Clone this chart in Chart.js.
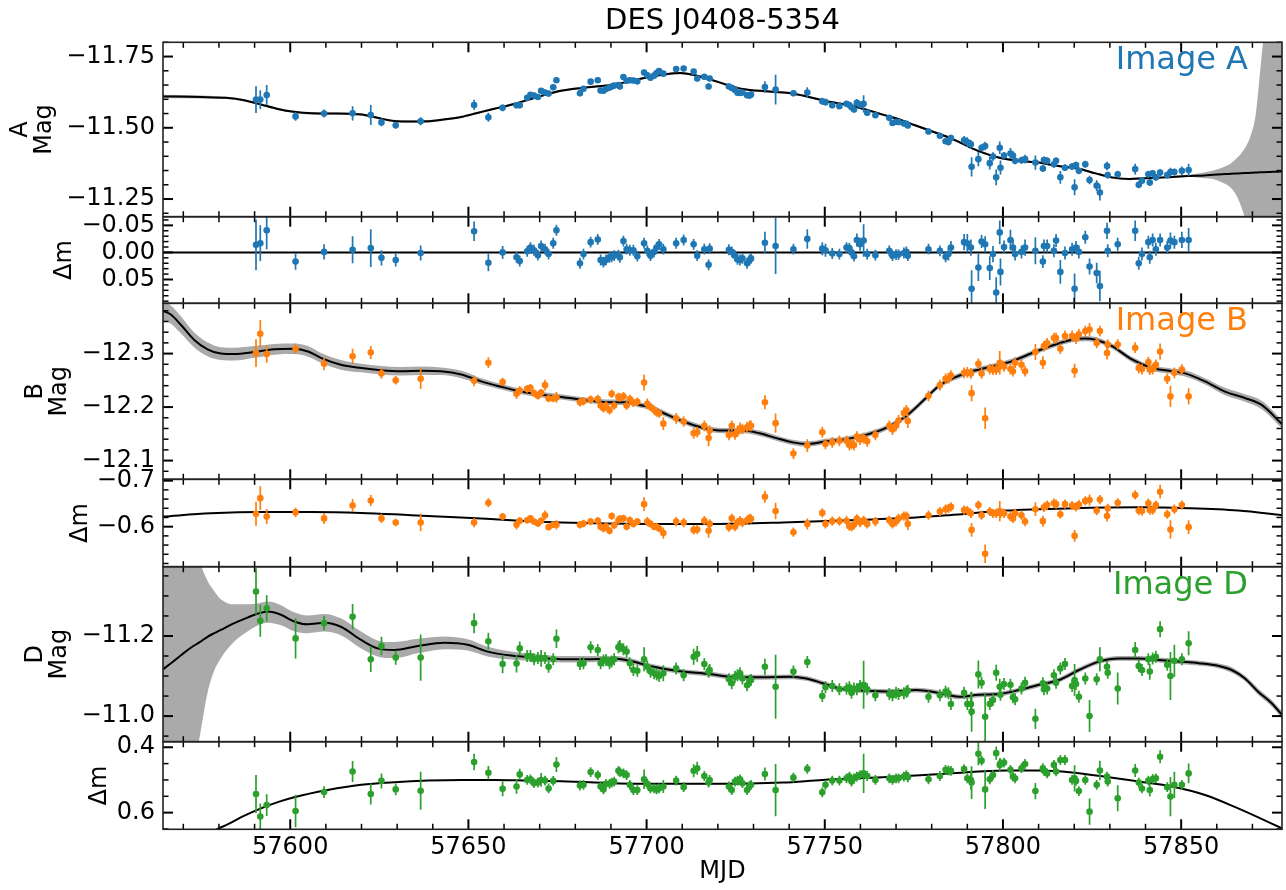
<!DOCTYPE html>
<html>
<head>
<meta charset="utf-8">
<title>DES J0408-5354</title>
<script src="https://cdn.jsdelivr.net/npm/chart.js@4.4.1/dist/chart.umd.min.js"></script>
<style>
  html, body { margin: 0; padding: 0; background: #fff; }
  canvas { display: block; }
</style>
</head>
<body>
<canvas id="grafico" width="1286" height="890"></canvas>
<script>
// observation epochs shared by the three images
const MJD = [
  57590.4, 57591.6, 57593.4, 57601.5, 57609.5, 57617.5, 57622.6, 57625.6, 57629.6, 57636.6,
  57651.6, 57655.6, 57659.6, 57663.5, 57664.4, 57666.5, 57667.4, 57668.4, 57669.5, 57670.4,
  57671.5, 57672.5, 57673.8, 57674.7,
  57681.3, 57682.3, 57684.3, 57686.3, 57687.1, 57687.9, 57688.6, 57689.6, 57690.2, 57690.9,
  57692.1, 57692.5, 57693.5, 57694.4, 57695.3, 57696.3, 57697.4, 57699.3, 57700.2, 57701.1,
  57702.1, 57702.8, 57703.5, 57704.7, 57708.3, 57710.4, 57713.2, 57714.2, 57716.2, 57717.4,
  57717.7, 57723.1, 57723.9, 57724.8, 57725.5, 57726.2, 57726.9, 57728.2, 57728.9, 57729.3,
  57733.2, 57736.2, 57741.2, 57745.1, 57749.3, 57750.2, 57752.1, 57754.1, 57756.1, 57756.9,
  57757.5, 57758.2, 57759.0, 57759.9, 57760.9, 57761.9, 57764.2, 57768.1, 57769.0, 57770.0,
  57770.7, 57772.2, 57772.9, 57773.3, 57779.1, 57782.3, 57783.9,
  57784.7, 57785.4, 57789.1, 57790.0, 57791.0, 57791.2, 57793.1, 57794.0, 57795.0, 57796.3,
  57797.2, 57798.1, 57799.1, 57799.3, 57800.3, 57802.1, 57802.8, 57803.4, 57805.2, 57806.2,
  57809.1, 57811.2, 57811.5, 57812.4, 57814.3, 57814.9, 57816.1, 57817.4, 57819.4, 57820.1,
  57820.5, 57821.3, 57823.1, 57824.3, 57826.3, 57827.2, 57829.2, 57829.4, 57832.2, 57837.1,
  57838.1, 57839.0, 57840.8, 57841.2, 57842.0, 57842.9, 57844.1, 57846.1, 57847.0, 57848.1,
  57850.2, 57852.1
];

// image A
const A_MAG = [
  -11.599, -11.599, -11.615, -11.540, -11.550, -11.551, -11.545, -11.519, -11.509, -11.523,
  -11.580, -11.537, -11.570, -11.579, -11.579, -11.605, -11.616, -11.613, -11.608, -11.630,
  -11.624, -11.620, -11.642, -11.667,
  -11.621, -11.637, -11.662, -11.667, -11.631, -11.630, -11.636, -11.641, -11.645, -11.648,
  -11.650, -11.645, -11.678, -11.665, -11.667, -11.666, -11.663, -11.694, -11.684, -11.676,
  -11.683, -11.692, -11.699, -11.690, -11.706, -11.708, -11.697, -11.673, -11.679, -11.645,
  -11.673, -11.645, -11.640, -11.633, -11.623, -11.622, -11.624, -11.614, -11.613, -11.617,
  -11.643, -11.634, -11.621, -11.624, -11.593, -11.590, -11.579, -11.576, -11.584, -11.580,
  -11.572, -11.564, -11.588, -11.581, -11.584, -11.553, -11.544, -11.535, -11.517, -11.521,
  -11.520, -11.515, -11.514, -11.508, -11.487, -11.472, -11.453,
  -11.450, -11.464, -11.456, -11.450, -11.442, -11.363, -11.390, -11.430, -11.436, -11.376,
  -11.399, -11.326, -11.430, -11.360, -11.403, -11.410, -11.403, -11.384, -11.386, -11.390,
  -11.378, -11.357, -11.387, -11.384, -11.372, -11.384, -11.326, -11.360, -11.364, -11.291,
  -11.369, -11.349, -11.372, -11.317, -11.297, -11.273, -11.366, -11.334, -11.337, -11.355,
  -11.300, -11.314, -11.337, -11.308, -11.340, -11.326, -11.343, -11.334, -11.345, -11.345,
  -11.349, -11.352
];
const A_ERR = [
  0.047, 0.033, 0.035, 0.015, 0.014, 0.025, 0.035, 0.014, 0.012, 0.014,
  0.018, 0.016, 0.012, 0.010, 0.010, 0.010, 0.010, 0.010, 0.010, 0.010,
  0.010, 0.010, 0.010, 0.010,
  0.010, 0.010, 0.010, 0.010, 0.010, 0.010, 0.010, 0.010, 0.010, 0.010,
  0.010, 0.010, 0.010, 0.010, 0.010, 0.010, 0.010, 0.010, 0.010, 0.010,
  0.010, 0.010, 0.010, 0.010, 0.010, 0.010, 0.010, 0.010, 0.010, 0.010,
  0.010, 0.010, 0.010, 0.010, 0.010, 0.010, 0.010, 0.010, 0.010, 0.010,
  0.020, 0.052, 0.010, 0.018, 0.012, 0.012, 0.010, 0.010, 0.010, 0.010,
  0.010, 0.010, 0.012, 0.012, 0.030, 0.010, 0.010, 0.010, 0.010, 0.010,
  0.010, 0.010, 0.010, 0.010, 0.010, 0.010, 0.010,
  0.012, 0.012, 0.015, 0.017, 0.015, 0.034, 0.025, 0.012, 0.015, 0.022,
  0.015, 0.028, 0.022, 0.025, 0.012, 0.019, 0.015, 0.012, 0.012, 0.015,
  0.025, 0.012, 0.012, 0.012, 0.012, 0.012, 0.022, 0.012, 0.012, 0.028,
  0.012, 0.012, 0.012, 0.015, 0.019, 0.028, 0.015, 0.012, 0.012, 0.019,
  0.012, 0.012, 0.012, 0.012, 0.012, 0.012, 0.012, 0.012, 0.015, 0.012,
  0.015, 0.022
];
const A_DM = [
  -0.014, -0.017, -0.041, 0.017, -0.001, -0.005, -0.008, 0.010, 0.014, 0.001,
  -0.039, 0.019, 0.000, 0.009, 0.016, -0.002, -0.009, -0.004, 0.005, -0.012,
  -0.006, 0.003, -0.017, -0.041,
  0.020, 0.003, -0.019, -0.024, 0.014, 0.018, 0.014, 0.009, 0.008, 0.006,
  0.005, 0.009, -0.021, -0.006, -0.004, -0.004, 0.007, -0.017, -0.003, 0.006,
  -0.001, -0.009, -0.015, -0.006, -0.017, -0.023, -0.015, 0.006, -0.006, 0.023,
  -0.007, -0.005, -0.001, 0.006, 0.013, 0.014, 0.011, 0.020, 0.014, 0.011,
  -0.018, -0.012, -0.006, -0.025, -0.007, -0.004, 0.002, 0.003, -0.009, -0.008,
  0.000, 0.007, -0.023, -0.015, -0.022, 0.003, 0.005, -0.003, 0.006, 0.004,
  0.004, 0.001, -0.001, 0.006, -0.006, -0.003, 0.008,
  0.003, -0.009, -0.019, -0.017, -0.009, 0.067, 0.028, -0.020, -0.015, 0.029,
  0.003, 0.074, -0.037, 0.036, -0.010, -0.023, -0.009, 0.003, -0.001, -0.009,
  -0.003, 0.017, -0.012, -0.012, -0.003, -0.022, 0.036, 0.001, -0.006, 0.067,
  -0.009, -0.001, -0.028, 0.026, 0.038, 0.062, -0.040, -0.003, -0.015, -0.040,
  0.020, 0.003, -0.019, 0.009, -0.023, -0.006, -0.023, -0.009, -0.022, -0.019,
  -0.023, -0.023
];

// image B
const B_MAG = [
  -12.301, -12.337, -12.299, -12.309, -12.281, -12.295, -12.302, -12.263, -12.250, -12.253,
  -12.249, -12.283, -12.247, -12.225, -12.231, -12.234, -12.236, -12.226, -12.221, -12.227,
  -12.241, -12.216, -12.216, -12.218,
  -12.209, -12.211, -12.214, -12.215, -12.203, -12.198, -12.203, -12.194, -12.225, -12.203,
  -12.219, -12.218, -12.220, -12.203, -12.215, -12.208, -12.210, -12.246, -12.206, -12.200,
  -12.195, -12.190, -12.188, -12.169, -12.179, -12.173, -12.151, -12.153, -12.165, -12.142,
  -12.156, -12.148, -12.165, -12.149, -12.154, -12.161, -12.159, -12.162, -12.165, -12.165,
  -12.209, -12.170, -12.113, -12.128, -12.153, -12.131, -12.134, -12.137, -12.137, -12.129,
  -12.131, -12.129, -12.145, -12.139, -12.142, -12.136, -12.148, -12.165, -12.158, -12.165,
  -12.175, -12.189, -12.194, -12.174, -12.221, -12.241, -12.253,
  -12.254, -12.259, -12.264, -12.265, -12.263, -12.226, -12.281, -12.263, -12.179, -12.271,
  -12.270, -12.270, -12.283, -12.279, -12.276, -12.271, -12.267, -12.283, -12.279, -12.267,
  -12.303, -12.283, -12.314, -12.319, -12.329, -12.329, -12.309, -12.333, -12.333, -12.268,
  -12.328, -12.336, -12.342, -12.345, -12.320, -12.342, -12.301, -12.317, -12.317, -12.311,
  -12.273, -12.271, -12.284, -12.270, -12.271, -12.279, -12.304, -12.253, -12.220, -12.264,
  -12.270, -12.220
];
const B_ERR = [
  0.026, 0.026, 0.016, 0.010, 0.012, 0.014, 0.012, 0.010, 0.008, 0.019,
  0.010, 0.010, 0.008, 0.010, 0.008, 0.007, 0.007, 0.007, 0.007, 0.007,
  0.010, 0.007, 0.007, 0.010,
  0.008, 0.008, 0.008, 0.008, 0.008, 0.008, 0.008, 0.008, 0.008, 0.008,
  0.008, 0.008, 0.008, 0.008, 0.008, 0.008, 0.008, 0.015, 0.010, 0.008,
  0.008, 0.008, 0.008, 0.012, 0.010, 0.010, 0.010, 0.010, 0.010, 0.015,
  0.010, 0.010, 0.010, 0.010, 0.010, 0.010, 0.010, 0.010, 0.010, 0.010,
  0.013, 0.018, 0.010, 0.012, 0.010, 0.010, 0.010, 0.010, 0.010, 0.010,
  0.010, 0.010, 0.010, 0.010, 0.010, 0.010, 0.010, 0.010, 0.010, 0.010,
  0.010, 0.010, 0.010, 0.013, 0.010, 0.010, 0.010,
  0.010, 0.010, 0.010, 0.010, 0.010, 0.015, 0.010, 0.010, 0.020, 0.010,
  0.010, 0.010, 0.022, 0.010, 0.010, 0.010, 0.010, 0.010, 0.010, 0.010,
  0.015, 0.012, 0.010, 0.010, 0.010, 0.010, 0.010, 0.010, 0.010, 0.013,
  0.010, 0.010, 0.010, 0.012, 0.010, 0.010, 0.012, 0.010, 0.010, 0.010,
  0.010, 0.010, 0.010, 0.010, 0.010, 0.010, 0.015, 0.010, 0.020, 0.010,
  0.010, 0.015
];
const B_DM = [
  -0.628, -0.662, -0.622, -0.631, -0.618, -0.646, -0.657, -0.618, -0.609, -0.609,
  -0.609, -0.652, -0.622, -0.604, -0.613, -0.614, -0.618, -0.611, -0.607, -0.613,
  -0.625, -0.599, -0.604, -0.604,
  -0.604, -0.607, -0.611, -0.613, -0.600, -0.596, -0.601, -0.591, -0.623, -0.603,
  -0.614, -0.617, -0.618, -0.600, -0.614, -0.606, -0.611, -0.649, -0.611, -0.606,
  -0.600, -0.600, -0.596, -0.586, -0.611, -0.609, -0.593, -0.594, -0.613, -0.591,
  -0.606, -0.599, -0.618, -0.600, -0.609, -0.613, -0.609, -0.614, -0.618, -0.617,
  -0.665, -0.634, -0.588, -0.606, -0.630, -0.606, -0.612, -0.612, -0.613, -0.601,
  -0.600, -0.604, -0.617, -0.609, -0.614, -0.606, -0.611, -0.614, -0.606, -0.611,
  -0.618, -0.623, -0.623, -0.606, -0.625, -0.633, -0.638,
  -0.640, -0.643, -0.636, -0.635, -0.629, -0.593, -0.647, -0.625, -0.541, -0.633,
  -0.629, -0.629, -0.634, -0.629, -0.629, -0.622, -0.618, -0.629, -0.625, -0.611,
  -0.638, -0.612, -0.642, -0.647, -0.651, -0.649, -0.627, -0.649, -0.646, -0.580,
  -0.643, -0.648, -0.656, -0.658, -0.635, -0.659, -0.623, -0.640, -0.652, -0.669,
  -0.635, -0.634, -0.651, -0.636, -0.636, -0.647, -0.676, -0.627, -0.594, -0.638,
  -0.647, -0.599
];

// image D
const D_MAG = [
  -11.311, -11.238, -11.269, -11.194, -11.232, -11.248, -11.142, -11.175, -11.146, -11.146,
  -11.232, -11.187, -11.130, -11.131, -11.169, -11.150, -11.150, -11.142, -11.145, -11.144,
  -11.145, -11.123, -11.142, -11.193,
  -11.130, -11.132, -11.172, -11.165, -11.132, -11.139, -11.140, -11.132, -11.136, -11.142,
  -11.172, -11.175, -11.167, -11.161, -11.132, -11.115, -11.113, -11.142, -11.123, -11.111,
  -11.107, -11.104, -11.100, -11.107, -11.119, -11.102, -11.148, -11.155, -11.130, -11.111,
  -11.115, -11.092, -11.082, -11.098, -11.102, -11.107, -11.094, -11.077, -11.088, -11.090,
  -11.123, -11.073, -11.111, -11.135, -11.050, -11.072, -11.075, -11.067, -11.069, -11.072,
  -11.058, -11.069, -11.067, -11.075, -11.078, -11.067, -11.052, -11.055, -11.052, -11.058,
  -11.055, -11.057, -11.061, -11.063, -11.048, -11.052, -11.061,
  -11.057, -11.030, -11.058, -11.030, -11.030, -11.011, -11.104, -11.083, -10.998, -11.030,
  -11.040, -11.108, -11.073, -11.053, -11.080, -11.078, -11.047, -11.042, -11.069, -11.083,
  -10.993, -11.082, -11.067, -11.069, -11.102, -11.083, -11.119, -11.130, -11.075, -11.090,
  -11.080, -11.048, -11.094, -11.000, -11.092, -11.142, -11.123, -11.108, -11.069, -11.165,
  -11.125, -11.115, -11.142, -11.111, -11.144, -11.148, -11.217, -11.128, -11.100, -11.138,
  -11.142, -11.182
];
const D_ERR = [
  0.058, 0.040, 0.033, 0.050, 0.018, 0.032, 0.032, 0.023, 0.018, 0.058,
  0.025, 0.021, 0.023, 0.022, 0.017, 0.015, 0.015, 0.015, 0.015, 0.021,
  0.015, 0.015, 0.015, 0.023,
  0.015, 0.015, 0.015, 0.015, 0.015, 0.015, 0.015, 0.015, 0.015, 0.015,
  0.015, 0.015, 0.015, 0.015, 0.015, 0.015, 0.015, 0.030, 0.015, 0.015,
  0.015, 0.015, 0.015, 0.020, 0.015, 0.015, 0.020, 0.020, 0.015, 0.015,
  0.015, 0.015, 0.015, 0.015, 0.015, 0.015, 0.015, 0.015, 0.015, 0.015,
  0.020, 0.080, 0.015, 0.015, 0.015, 0.015, 0.015, 0.015, 0.015, 0.015,
  0.015, 0.015, 0.015, 0.015, 0.060, 0.015, 0.015, 0.015, 0.015, 0.015,
  0.015, 0.015, 0.015, 0.015, 0.015, 0.015, 0.015,
  0.015, 0.015, 0.015, 0.015, 0.030, 0.050, 0.035, 0.015, 0.060, 0.015,
  0.015, 0.020, 0.020, 0.015, 0.015, 0.015, 0.015, 0.015, 0.015, 0.015,
  0.025, 0.015, 0.015, 0.015, 0.015, 0.015, 0.015, 0.015, 0.015, 0.040,
  0.015, 0.015, 0.015, 0.040, 0.015, 0.030, 0.015, 0.015, 0.040, 0.020,
  0.015, 0.015, 0.015, 0.020, 0.015, 0.015, 0.020, 0.015, 0.060, 0.040,
  0.015, 0.030
];
const D_DM = [
  0.543, 0.612, 0.577, 0.595, 0.537, 0.474, 0.543, 0.503, 0.529, 0.533,
  0.445, 0.478, 0.527, 0.520, 0.483, 0.500, 0.498, 0.510, 0.508, 0.500,
  0.502, 0.526, 0.503, 0.453,
  0.517, 0.515, 0.476, 0.485, 0.520, 0.529, 0.512, 0.512, 0.508, 0.505,
  0.472, 0.476, 0.480, 0.485, 0.515, 0.531, 0.531, 0.498, 0.512, 0.526,
  0.526, 0.529, 0.526, 0.520, 0.502, 0.522, 0.472, 0.464, 0.488, 0.508,
  0.500, 0.520, 0.531, 0.505, 0.502, 0.498, 0.510, 0.531, 0.518, 0.515,
  0.482, 0.531, 0.493, 0.466, 0.538, 0.515, 0.502, 0.502, 0.495, 0.490,
  0.505, 0.495, 0.490, 0.485, 0.480, 0.488, 0.500, 0.495, 0.500, 0.495,
  0.495, 0.490, 0.485, 0.492, 0.498, 0.488, 0.469,
  0.471, 0.472, 0.467, 0.495, 0.500, 0.508, 0.420, 0.441, 0.529, 0.498,
  0.485, 0.418, 0.454, 0.449, 0.447, 0.469, 0.490, 0.495, 0.464, 0.451,
  0.534, 0.464, 0.472, 0.480, 0.454, 0.474, 0.439, 0.439, 0.500, 0.495,
  0.503, 0.534, 0.500, 0.597, 0.515, 0.471, 0.490, 0.505, 0.556, 0.471,
  0.508, 0.526, 0.502, 0.531, 0.497, 0.495, 0.429, 0.522, 0.551, 0.515,
  0.515, 0.480
];

// model light curves and their uncertainty bands
const A_CURVE_T = [
  57564.3, 57575, 57582, 57587, 57592, 57596.5, 57601, 57606, 57612, 57617,
  57620, 57624.5, 57629, 57634, 57639, 57643, 57648, 57652.5, 57657, 57662,
  57667, 57671.5, 57676, 57682, 57691.5, 57699, 57704.5, 57709.5, 57713, 57717.5,
  57722.5, 57727, 57733.5, 57740, 57745, 57750.5, 57757, 57761.5, 57766, 57771,
  57775.5, 57780, 57785, 57788, 57793, 57799, 57804.5, 57810, 57815.5, 57821,
  57826, 57830.5, 57835.5, 57840, 57845.5, 57852,
  57856.5, 57859, 57861.5, 57864, 57866, 57868, 57869.5, 57871, 57872.2, 57873.2,
  57875, 57877, 57878.3
];
const A_CURVE = [
  -11.610, -11.608, -11.605, -11.597, -11.581, -11.566, -11.556, -11.551, -11.550, -11.549,
  -11.547, -11.535, -11.524, -11.522, -11.523, -11.529, -11.538, -11.552, -11.566, -11.581,
  -11.599, -11.616, -11.630, -11.640, -11.653, -11.674, -11.686, -11.692, -11.686, -11.671,
  -11.651, -11.636, -11.628, -11.622, -11.610, -11.593, -11.579, -11.564, -11.547, -11.529,
  -11.508, -11.488, -11.465, -11.448, -11.419, -11.395, -11.384, -11.378, -11.366, -11.357,
  -11.340, -11.326, -11.320, -11.323, -11.326, -11.331,
  -11.333, -11.335, -11.337, -11.339, -11.340, -11.341, -11.342, -11.343, -11.344, -11.344,
  -11.345, -11.346, -11.347
];
const A_BAND_UP = [
  0.006, 0.005, 0.004, 0.004, 0.004, 0.004, 0.004, 0.004, 0.004, 0.004,
  0.004, 0.004, 0.004, 0.004, 0.004, 0.004, 0.004, 0.004, 0.004, 0.004,
  0.004, 0.004, 0.004, 0.004, 0.004, 0.004, 0.004, 0.004, 0.004, 0.004,
  0.004, 0.004, 0.004, 0.004, 0.004, 0.004, 0.004, 0.004, 0.004, 0.004,
  0.004, 0.004, 0.004, 0.004, 0.004, 0.004, 0.004, 0.004, 0.004, 0.004,
  0.004, 0.004, 0.004, 0.004, 0.004, 0.004,
  0.010, 0.015, 0.023, 0.037, 0.058, 0.090, 0.130, 0.210, 0.360, 0.480,
  0.650, 0.800, 0.900
];
const A_BAND_DN = [
  0.006, 0.005, 0.004, 0.004, 0.004, 0.004, 0.004, 0.004, 0.004, 0.004,
  0.004, 0.004, 0.004, 0.004, 0.004, 0.004, 0.004, 0.004, 0.004, 0.004,
  0.004, 0.004, 0.004, 0.004, 0.004, 0.004, 0.004, 0.004, 0.004, 0.004,
  0.004, 0.004, 0.004, 0.004, 0.004, 0.004, 0.004, 0.004, 0.004, 0.004,
  0.004, 0.004, 0.004, 0.004, 0.004, 0.004, 0.004, 0.004, 0.004, 0.004,
  0.004, 0.004, 0.004, 0.004, 0.004, 0.004,
  0.010, 0.015, 0.029, 0.050, 0.090, 0.160, 0.220, 0.300, 0.380, 0.450,
  0.550, 0.650, 0.700
];

const B_CURVE_T = [
  57564.3, 57566.5, 57569.3, 57573, 57576.8, 57580.5, 57584.3, 57590, 57595.5, 57601,
  57605, 57608.6, 57614.2, 57620, 57625.5, 57631, 57637, 57642.3, 57648, 57653.6,
  57659.2, 57664.8, 57670.4, 57676, 57684, 57690, 57695.3, 57698, 57701, 57704.7,
  57710.3, 57716, 57721.5, 57727, 57731.7, 57736.4, 57741, 57745, 57750.4, 57756,
  57761.6, 57767.2, 57772.8, 57778.4, 57782.1, 57786, 57791.4, 57797, 57802.6, 57808.2,
  57813.8, 57819.4, 57823, 57826, 57830.6, 57836.2, 57841.8, 57847.4, 57851.1, 57856.7,
  57862.3, 57867.9, 57872.6, 57878.3
];
const B_CURVE = [
  -12.380, -12.373, -12.354, -12.326, -12.308, -12.300, -12.299, -12.303, -12.308, -12.309,
  -12.304, -12.292, -12.279, -12.273, -12.269, -12.267, -12.268, -12.267, -12.261, -12.248,
  -12.238, -12.229, -12.223, -12.219, -12.212, -12.209, -12.209, -12.204, -12.200, -12.189,
  -12.173, -12.161, -12.156, -12.156, -12.151, -12.142, -12.134, -12.131, -12.136, -12.140,
  -12.148, -12.161, -12.183, -12.217, -12.240, -12.254, -12.267, -12.276, -12.286, -12.301,
  -12.315, -12.326, -12.328, -12.326, -12.314, -12.289, -12.273, -12.267, -12.263, -12.248,
  -12.229, -12.217, -12.204, -12.168
];
const B_BAND = [
  0.018, 0.017, 0.016, 0.014, 0.013, 0.012, 0.012, 0.011, 0.010, 0.010,
  0.010, 0.009, 0.009, 0.008, 0.008, 0.008, 0.008, 0.007, 0.007, 0.006,
  0.005, 0.005, 0.005, 0.005, 0.005, 0.005, 0.005, 0.005, 0.005, 0.005,
  0.005, 0.005, 0.005, 0.005, 0.005, 0.005, 0.005, 0.005, 0.005, 0.005,
  0.005, 0.005, 0.005, 0.005, 0.005, 0.005, 0.005, 0.005, 0.005, 0.005,
  0.005, 0.005, 0.005, 0.005, 0.005, 0.005, 0.005, 0.005, 0.006, 0.006,
  0.007, 0.007, 0.008, 0.008
];

const D_CURVE_T = [
  57564.3, 57567, 57569.5, 57572, 57574.5, 57576.8, 57578.7, 57580.5, 57584.3, 57588,
  57591, 57593.6, 57597.4, 57601.1, 57604.9, 57609.6, 57614.2, 57619.9, 57624.5, 57629.2,
  57635.8, 57643.3, 57649.8, 57655.4, 57662, 57668.5, 57676, 57682.3, 57691.6, 57695.3,
  57700.9, 57708.4, 57717.7, 57725.2, 57732.6, 57740.1, 57744.8, 57749.4, 57754.1, 57761.6,
  57769, 57775.6, 57780.2, 57784.9, 57787.7, 57793.3, 57798.9, 57804.5, 57810.1, 57815.7,
  57821.3, 57826.9, 57832.5, 57838.1, 57843.7, 57849.3, 57854.9, 57860.6, 57864.2, 57867.9,
  57871.6, 57875.4, 57878.3
];
const D_CURVE = [
  -11.117, -11.135, -11.153, -11.170, -11.184, -11.198, -11.207, -11.215, -11.232, -11.246,
  -11.256, -11.261, -11.253, -11.236, -11.229, -11.233, -11.223, -11.190, -11.169, -11.165,
  -11.175, -11.183, -11.178, -11.161, -11.151, -11.146, -11.142, -11.142, -11.143, -11.138,
  -11.125, -11.113, -11.105, -11.097, -11.097, -11.098, -11.094, -11.082, -11.069, -11.063,
  -11.061, -11.065, -11.061, -11.052, -11.048, -11.053, -11.055, -11.065, -11.078, -11.090,
  -11.115, -11.136, -11.144, -11.144, -11.140, -11.136, -11.132, -11.125, -11.115, -11.094,
  -11.061, -11.032, -11.003
];
const D_BAND_UP = [
  0.600, 0.550, 0.480, 0.360, 0.210, 0.140, 0.105, 0.077, 0.047, 0.033,
  0.026, 0.025, 0.024, 0.023, 0.022, 0.022, 0.021, 0.021, 0.020, 0.020,
  0.018, 0.016, 0.014, 0.012, 0.010, 0.009, 0.008, 0.008, 0.007, 0.007,
  0.006, 0.006, 0.006, 0.006, 0.006, 0.006, 0.006, 0.006, 0.006, 0.006,
  0.006, 0.006, 0.006, 0.006, 0.006, 0.006, 0.006, 0.006, 0.006, 0.006,
  0.006, 0.006, 0.006, 0.006, 0.006, 0.006, 0.006, 0.006, 0.007, 0.007,
  0.008, 0.008, 0.009
];
const D_BAND_DN = [
  0.550, 0.500, 0.420, 0.330, 0.240, 0.140, 0.093, 0.071, 0.046, 0.035,
  0.029, 0.028, 0.026, 0.024, 0.022, 0.022, 0.021, 0.021, 0.020, 0.020,
  0.018, 0.016, 0.014, 0.012, 0.010, 0.009, 0.008, 0.008, 0.007, 0.007,
  0.006, 0.006, 0.006, 0.006, 0.006, 0.006, 0.006, 0.006, 0.006, 0.006,
  0.006, 0.006, 0.006, 0.006, 0.006, 0.006, 0.006, 0.006, 0.006, 0.006,
  0.006, 0.006, 0.006, 0.006, 0.006, 0.006, 0.006, 0.006, 0.007, 0.007,
  0.008, 0.008, 0.009
];

// difference curves shown under each image
const A_DM_CURVE_T = [57564.3, 57878.3];
const A_DM_CURVE = [0, 0];
const B_DM_CURVE_T = [
  57564.3, 57577.7, 57591.8, 57605.8, 57619.9, 57633.9, 57647.9, 57662, 57676, 57700.9,
  57719.6, 57738.2, 57756.9, 57775.6, 57784.9, 57800.7, 57819.4, 57838.1, 57852.1, 57866,
  57878.3
];
const B_DM_CURVE = [
  -0.622, -0.629, -0.632, -0.632, -0.630, -0.625, -0.620, -0.614, -0.609, -0.606,
  -0.606, -0.609, -0.614, -0.620, -0.625, -0.635, -0.640, -0.642, -0.640, -0.635,
  -0.625
];
const D_DM_CURVE_T = [
  57564.3, 57572, 57579.4, 57582.4, 57587, 57591.8, 57596.5, 57601.1, 57610.5, 57619.9,
  57629.2, 57638.6, 57648, 57657.3, 57666.7, 57676, 57700.9, 57719.6, 57738.2, 57749.4,
  57766.2, 57784.9, 57800.7, 57810.1, 57819.4, 57828.7, 57838.1, 57847.4, 57856.7, 57866,
  57878.3
];
const D_DM_CURVE = [
  0.760, 0.700, 0.651, 0.636, 0.610, 0.587, 0.568, 0.553, 0.531, 0.515,
  0.507, 0.502, 0.500, 0.500, 0.502, 0.504, 0.512, 0.512, 0.508, 0.500,
  0.492, 0.480, 0.471, 0.471, 0.477, 0.490, 0.505, 0.520, 0.546, 0.587,
  0.648
];

// tick labels
const X_TICKS = [57600, 57650, 57700, 57750, 57800, 57850];
const A_TICKS = [-11.75, -11.5, -11.25];
const DA_TICKS = [-0.05, 0, 0.05];
const B_TICKS = [-12.3, -12.2, -12.1];
const DB_TICKS = [-0.7, -0.6];
const D_TICKS = [-11.2, -11.0];
const DD_TICKS = [0.4, 0.6];

const FONT = 'DejaVu Sans';
const FS = 24;
const BLUE = '#1f77b4', ORANGE = '#ff7f0e', GREEN = '#2ca02c', GREY = '#aaaaaa';
const X_MIN = 57564.3, X_MAX = 57878.3;

// one entry per stacked panel, top to bottom
const panels = [
  { id: 'yA', min: -11.80, max: -11.188, ticks: A_TICKS, minor: 0.05, dec: 2, h: 174.4, title: ['A', 'Mag'], tag: 'Image A', color: BLUE },
  { id: 'dA', min: -0.066, max: 0.094, ticks: DA_TICKS, minor: 0.01, dec: 2, h: 86.6, title: ['\u0394m'] },
  { id: 'yB', min: -12.394, max: -12.065, ticks: B_TICKS, minor: 0.02, dec: 1, h: 176, title: ['B', 'Mag'], tag: 'Image B', color: ORANGE },
  { id: 'dB', min: -0.703, max: -0.513, ticks: DB_TICKS, minor: 0.02, dec: 1, h: 87.4, title: ['\u0394m'] },
  { id: 'yD', min: -11.373, max: -10.936, ticks: D_TICKS, minor: 0.05, dec: 1, h: 175, title: ['D', 'Mag'], tag: 'Image D', color: GREEN },
  { id: 'dD', min: 0.383, max: 0.651, ticks: DD_TICKS, minor: 0.05, dec: 1, h: 87.6, title: ['\u0394m'] }
];

function fmt(v, dec) {
  return (v < -1e-9 ? '\u2212' : '') + Math.abs(v).toFixed(dec);
}

function pts(xs, ys, off, sign) {
  return xs.map((x, i) => ({ x, y: ys[i] + (off ? sign * off[i] : 0) }));
}

const datasets = [];

function addBand(axis, t, c, up, dn) {
  datasets.push({ data: pts(t, c, dn, 1), yAxisID: axis, borderWidth: 0, pointRadius: 0,
    cubicInterpolationMode: 'monotone', fill: false, order: 3 });
  datasets.push({ data: pts(t, c, up, -1), yAxisID: axis, borderWidth: 0, pointRadius: 0,
    cubicInterpolationMode: 'monotone', fill: false, order: 3, bandOf: datasets.length - 1 });
}

function addCurve(axis, t, c) {
  datasets.push({ data: pts(t, c), yAxisID: axis, borderColor: '#000', borderWidth: 2,
    pointRadius: 0, cubicInterpolationMode: 'monotone', fill: false, order: 2 });
}

function addPoints(axis, ys, err, color) {
  datasets.push({ data: pts(MJD, ys), yAxisID: axis, showLine: false, pointRadius: 3.3,
    pointBackgroundColor: color, pointBorderColor: color, pointBorderWidth: 0,
    errors: err, errColor: color, order: 1 });
}

addBand('yA', A_CURVE_T, A_CURVE, A_BAND_UP, A_BAND_DN);
addCurve('yA', A_CURVE_T, A_CURVE);
addPoints('yA', A_MAG, A_ERR, BLUE);
addCurve('dA', A_DM_CURVE_T, A_DM_CURVE);
addPoints('dA', A_DM, A_ERR, BLUE);

addBand('yB', B_CURVE_T, B_CURVE, B_BAND, B_BAND);
addCurve('yB', B_CURVE_T, B_CURVE);
addPoints('yB', B_MAG, B_ERR, ORANGE);
addCurve('dB', B_DM_CURVE_T, B_DM_CURVE);
addPoints('dB', B_DM, B_ERR, ORANGE);

addBand('yD', D_CURVE_T, D_CURVE, D_BAND_UP, D_BAND_DN);
addCurve('yD', D_CURVE_T, D_CURVE);
addPoints('yD', D_MAG, D_ERR, GREEN);
addCurve('dD', D_DM_CURVE_T, D_DM_CURVE);
addPoints('dD', D_DM, D_ERR, GREEN);

// fills the band between two edge lines, following their bezier control points
function traceBand(ctx, hi, lo) {
  ctx.beginPath();
  ctx.moveTo(hi[0].x, hi[0].y);
  for (let i = 1; i < hi.length; i++) {
    const a = hi[i - 1], b = hi[i];
    ctx.bezierCurveTo(a.cp2x ?? a.x, a.cp2y ?? a.y, b.cp1x ?? b.x, b.cp1y ?? b.y, b.x, b.y);
  }
  const n = lo.length - 1;
  ctx.lineTo(lo[n].x, lo[n].y);
  for (let i = n; i > 0; i--) {
    const a = lo[i], b = lo[i - 1];
    ctx.bezierCurveTo(a.cp1x ?? a.x, a.cp1y ?? a.y, b.cp2x ?? b.x, b.cp2y ?? b.y, b.x, b.y);
  }
  ctx.closePath();
  ctx.fill();
}

const panelPlugin = {
  id: 'panelPlugin',
  beforeDatasetDraw(chart, args) {
    const ctx = chart.ctx;
    const { xScale, yScale } = args.meta;
    ctx.save();
    ctx.beginPath();
    ctx.rect(xScale.left, yScale.top, xScale.right - xScale.left, yScale.bottom - yScale.top);
    ctx.clip();
    const ds = chart.data.datasets[args.index];
    if (ds.bandOf !== undefined) {
      const hiMeta = args.meta;
      const loMeta = chart.getDatasetMeta(ds.bandOf);
      [hiMeta, loMeta].forEach(m => {
        if (m.dataset && m.dataset.updateControlPoints) m.dataset.updateControlPoints(chart.chartArea, 'x');
      });
      ctx.fillStyle = GREY;
      traceBand(ctx, hiMeta.data, loMeta.data);
    }
  },
  afterDatasetDraw(chart, args) {
    const ctx = chart.ctx;
    const ds = chart.data.datasets[args.index];
    if (ds.errors) {
      const { xScale, yScale } = args.meta;
      ctx.strokeStyle = ds.errColor;
      ctx.lineWidth = 1.7;
      ds.data.forEach((p, i) => {
        const px = xScale.getPixelForValue(p.x);
        ctx.beginPath();
        ctx.moveTo(px, yScale.getPixelForValue(p.y - ds.errors[i]));
        ctx.lineTo(px, yScale.getPixelForValue(p.y + ds.errors[i]));
        ctx.stroke();
      });
    }
    ctx.restore();
  },
  afterDraw(chart) {
    const ctx = chart.ctx;
    const x = chart.scales.x;
    const MAJ = 10, MIN = 5.5;

    const xMinor = [];
    for (let k = Math.ceil(X_MIN / 10); k * 10 <= X_MAX; k++) {
      if ((k * 10) % 50 !== 0) xMinor.push(k * 10);
    }

    ctx.save();
    panels.forEach(p => {
      const y = chart.scales[p.id];

      // ticks on all four sides, pointing inwards
      ctx.strokeStyle = '#000';
      const tick = (x1, y1, x2, y2) => { ctx.beginPath(); ctx.moveTo(x1, y1); ctx.lineTo(x2, y2); ctx.stroke(); };

      ctx.lineWidth = 1.5;
      xMinor.forEach(v => {
        const px = x.getPixelForValue(v);
        tick(px, y.top, px, y.top + MIN);
        tick(px, y.bottom, px, y.bottom - MIN);
      });
      const k0 = Math.ceil(p.min / p.minor - 1e-6), k1 = Math.floor(p.max / p.minor + 1e-6);
      for (let k = k0; k <= k1; k++) {
        const v = k * p.minor;
        if (p.ticks.some(t => Math.abs(t - v) < p.minor / 10)) continue;
        const py = y.getPixelForValue(v);
        tick(x.left, py, x.left + MIN, py);
        tick(x.right, py, x.right - MIN, py);
      }

      ctx.lineWidth = 2;
      X_TICKS.forEach(v => {
        const px = x.getPixelForValue(v);
        tick(px, y.top, px, y.top + MAJ);
        tick(px, y.bottom, px, y.bottom - MAJ);
      });
      p.ticks.forEach(v => {
        const py = y.getPixelForValue(v);
        tick(x.left, py, x.left + MAJ, py);
        tick(x.right, py, x.right - MAJ, py);
      });

      // frame
      ctx.strokeStyle = '#222';
      ctx.lineWidth = 1.6;
      ctx.strokeRect(x.left, y.top, x.right - x.left, y.bottom - y.top);

      // rotated axis title, placed left of the widest tick label
      ctx.font = `${FS}px ${FONT}`;
      ctx.fillStyle = '#000';
      ctx.textAlign = 'right';
      const labels = p.ticks.map(v => fmt(v, p.dec));
      const inkLeft = Math.max(...labels.map(l => ctx.measureText(l).actualBoundingBoxLeft));
      const right = x.left - 8 - inkLeft - 12;
      const last = p.title[p.title.length - 1];
      const desc = Math.max(0, ctx.measureText(last).actualBoundingBoxDescent);
      ctx.save();
      ctx.translate(right, (y.top + y.bottom) / 2);
      ctx.rotate(-Math.PI / 2);
      ctx.textAlign = 'center';
      ctx.textBaseline = 'alphabetic';
      const n = p.title.length;
      p.title.forEach((line, i) => ctx.fillText(line, 0, -desc - (n - 1 - i) * FS));
      ctx.restore();

      // image name in the corner
      if (p.tag) {
        ctx.font = `32px ${FONT}`;
        ctx.fillStyle = p.color;
        ctx.textAlign = 'right';
        ctx.textBaseline = 'alphabetic';
        ctx.fillText(p.tag, x.right - 34, y.top + 27);
      }
    });
    ctx.restore();
  }
};

const scales = {
  x: {
    type: 'linear', position: 'bottom', min: X_MIN, max: X_MAX,
    afterBuildTicks: s => { s.ticks = X_TICKS.map(value => ({ value })); },
    afterFit: s => { s.height = 60.7; },
    ticks: { callback: v => String(v), font: { family: FONT, size: FS }, color: '#000', padding: 4, maxRotation: 0, autoSkip: false },
    grid: { display: false, drawTicks: false },
    border: { display: false },
    title: { display: true, text: 'MJD', font: { family: FONT, size: FS }, color: '#000', padding: { top: 0, bottom: 4 } }
  }
};

panels.forEach((p, i) => {
  scales[p.id] = {
    type: 'linear', position: 'left', stack: 'mjd', stackWeight: p.h, weight: panels.length - i,
    reverse: true, min: p.min, max: p.max,
    afterBuildTicks: s => { s.ticks = p.ticks.map(value => ({ value })); },
    afterFit: s => { s.width = 163; },
    ticks: { callback: v => fmt(v, p.dec), font: { family: FONT, size: FS }, color: '#000', padding: 8, autoSkip: false },
    grid: { display: false, drawTicks: false },
    border: { display: false }
  };
});

const grafico = new Chart(document.getElementById('grafico'), {
  type: 'line',
  data: { datasets },
  options: {
    responsive: false,
    animation: false,
    devicePixelRatio: 1,
    layout: { padding: { left: 0, right: 3, top: 0, bottom: 0 } },
    plugins: {
      legend: { display: false },
      tooltip: { enabled: false },
      title: {
        display: true, text: 'DES J0408-5354', fullSize: false, color: '#000',
        font: { family: FONT, size: 29, weight: 'normal' },
        padding: { top: 4, bottom: 3.5 }
      }
    },
    scales
  },
  plugins: [panelPlugin]
});
</script>
</body>
</html>
